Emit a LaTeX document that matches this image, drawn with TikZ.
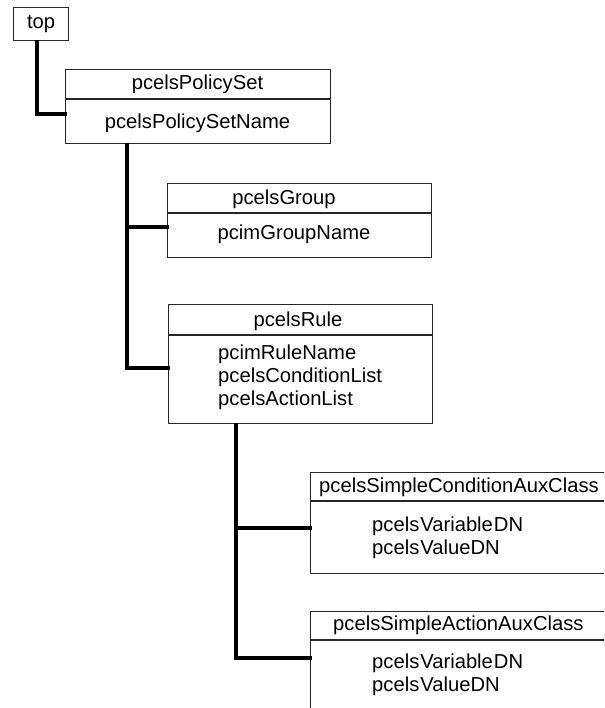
\documentclass[tikz,border=0pt]{standalone}
\usepackage{fontspec}
\setmainfont{Liberation Sans}
\begin{document}
\begin{tikzpicture}[x=1pt,y=-1pt,
  box/.style={draw=black!85, line width=1.2pt, inner sep=0pt, anchor=north west},
  divider/.style={draw=black!85, line width=1.2pt},
  conn/.style={draw=black, line width=3.2pt, line cap=rect},
  lbl/.style={inner sep=0pt, font=\fontsize{20.2}{23}\selectfont},
  lst/.style={lbl, anchor=west, align=left}]
\clip (0,0) rectangle (604,708);
\fill[white] (0,0) rectangle (604,708);
% boxes
\node[box, minimum width=55pt, minimum height=33pt] (top) at (13,7) {};
\node[box, minimum width=265pt, minimum height=74pt] (ps) at (65,69) {};
\node[box, minimum width=264pt, minimum height=74pt] (grp) at (167,183) {};
\node[box, minimum width=264pt, minimum height=119pt] (rule) at (168,304) {};
\node[box, minimum width=320pt, minimum height=101pt] (cond) at (310,472) {};
\node[box, minimum width=320pt, minimum height=120pt] (act) at (310,611) {};
% dividers
\coordinate (psd) at (65,99);
\coordinate (grpd) at (167,213);
\coordinate (ruled) at (168,335);
\coordinate (condd) at (310,501);
\coordinate (actd) at (310,640);
\draw[divider] (psd) -- (psd -| ps.east);
\draw[divider] (grpd) -- (grpd -| grp.east);
\draw[divider] (ruled) -- (ruled -| rule.east);
\draw[divider] (condd) -- (condd -| cond.east);
\draw[divider] (actd) -- (actd -| act.east);
% texts
\node[lbl] (ttop) at (top.center) {top};
\node[lbl] (tps) at (197.5,84) {pcelsPolicySet};
\node[lbl] (tpsn) at (197.5,123) {pcelsPolicySetName};
\node[lbl] (tgrp) at (284,199) {pcelsGroup};
\node[lbl] (tgrpn) at (294,234) {pcimGroupName};
\node[lbl] (trule) at (298,321) {pcelsRule};
\node[lst] (trulel) at (218,377) {pcimRuleName\\pcelsConditionList\\pcelsActionList};
\node[lbl, anchor=west] (tcond) at (319,487) {pcelsSimpleConditionAuxClass};
\node[lst] (tcondl) at (372,538) {pcels\hspace{1pt}Variable\hspace{1pt}DN\\pcels\hspace{1pt}ValueDN};
\node[lbl, anchor=west] (tact) at (333,625) {pcelsSimpleActionAuxClass};
\node[lst] (tactl) at (372,675) {pcels\hspace{1pt}Variable\hspace{1pt}DN\\pcels\hspace{1pt}ValueDN};
% connectors
\coordinate (j1) at (37,114);
\coordinate (j2) at (127,227);
\coordinate (j3) at (127,368);
\coordinate (j4) at (236,528);
\coordinate (j5) at (236,658);
\draw[conn] (top.south -| j1) -- (j1) -- (j1 -| ps.west);
\draw[conn] (ps.south -| j2) -- (j3) -- (j3 -| rule.west);
\draw[conn] (j2) -- (j2 -| grp.west);
\draw[conn] (rule.south -| j4) -- (j5) -- (j5 -| act.west);
\draw[conn] (j4) -- (j4 -| cond.west);
\end{tikzpicture}
\end{document}
